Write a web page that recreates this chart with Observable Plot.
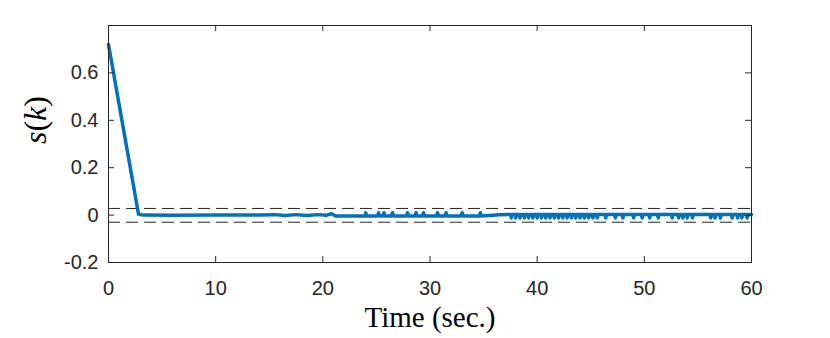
<!DOCTYPE html>
<html>
<head>
<meta charset="utf-8">
<script src="https://cdn.jsdelivr.net/npm/d3@7"></script>
<script src="https://cdn.jsdelivr.net/npm/@observablehq/plot@0.6"></script>
<style>
  html, body { margin: 0; padding: 0; background: #fff; }
  svg { display: block; }
  svg g[aria-label="x-axis tick label"], svg g[aria-label="y-axis tick label"] { font-size: 20px; }
</style>
</head>
<body>
<div id="chart"></div>
<script>
// ---- data ----
// main trajectory key points (time in s, s(k))
const baseTime  = [0, 2.8, 3.2, 6, 10, 14, 15.5, 16.5, 17.5, 18.5, 19.5, 20.3, 20.8, 21.2, 22, 24, 30, 34, 35.5, 36.5, 37.3, 38];
const baseValue = [0.72, 0.004, 0.0, -0.001, 0.0, 0.0, 0.002, -0.002, 0.002, -0.002, 0.002, -0.001, 0.006, -0.004, -0.004, -0.004, -0.004, -0.004, -0.002, 0.001, 0.003, 0.003];
// upward chatter spikes between 20 s and 36 s
const upSpikeTime = [24.0, 25.2, 25.7, 26.5, 27.9, 28.7, 29.4, 30.7, 31.5, 33.0, 34.7];
const upSpikeBase = -0.004;
const upSpikePeak = 0.010;
// downward chatter spikes after 37.5 s
const downSpikeTime = [37.6, 38.0, 38.4, 38.8, 39.2, 39.6, 40.0, 40.4, 40.8, 41.2, 41.6, 42.0, 42.4, 42.8, 43.2, 43.6, 44.0, 44.4, 44.8, 45.2, 45.6,
                       46.4, 47.3, 48.0, 49.0, 49.8, 50.5, 51.3, 52.6, 53.2, 53.6, 54.0, 54.5, 56.2, 56.6, 57.1, 58.2, 58.7, 59.1, 59.6];
const downSpikeBase = 0.003;
const downSpikeLow = -0.012;
const endTime = 60, endValue = 0.003;
// dashed bounds
const bounds = [0.028, -0.03];
// ticks
const xTicks = [0, 10, 20, 30, 40, 50, 60];
const yTicks = [-0.2, 0, 0.2, 0.4, 0.6];
const yTickLabels = ["-0.2", "0", "0.2", "0.4", "0.6"];

// ---- build series ----
const pts = baseTime.map((t, i) => ({t, s: baseValue[i]}));
for (const t of upSpikeTime) {
  pts.push({t: t - 0.1, s: upSpikeBase}, {t, s: upSpikePeak}, {t: t + 0.1, s: upSpikeBase});
}
for (const t of downSpikeTime) {
  pts.push({t: t - 0.08, s: downSpikeBase}, {t, s: downSpikeLow}, {t: t + 0.08, s: downSpikeBase});
}
pts.push({t: endTime, s: endValue});
pts.sort((a, b) => a.t - b.t);

const W = 830, H = 338;
const mL = 108, mR = 79, mT = 25, mB = 76;
const plotH = H - mT - mB, plotW = W - mL - mR;
const yDom = [-0.2, 0.8], xDom = [0, 60];
const tickPx = 6;
const dy = tickPx * (yDom[1] - yDom[0]) / plotH;
const dx = tickPx * (xDom[1] - xDom[0]) / plotW;
const axisColor = "#262626";
const serif = "'Liberation Serif', 'DejaVu Serif', serif";

const chart = Plot.plot({
  width: W, height: H,
  marginLeft: mL, marginRight: mR, marginTop: mT, marginBottom: mB,
  style: {fontFamily: "'Liberation Sans', Arial, sans-serif", fontSize: "20px", color: axisColor, background: "#fff"},
  x: {domain: xDom},
  y: {domain: yDom},
  marks: [
    Plot.ruleY(bounds, {stroke: axisColor, strokeWidth: 1, strokeDasharray: "12,6"}),
    Plot.line(pts, {x: "t", y: "s", stroke: "#0072BD", strokeWidth: 3.5, strokeLinejoin: "round"}),
    // inward ticks
    Plot.ruleX(xTicks, {y1: yDom[0], y2: yDom[0] + dy, stroke: axisColor}),
    Plot.ruleX(xTicks, {y1: yDom[1], y2: yDom[1] - dy, stroke: axisColor}),
    Plot.ruleY(yTicks, {x1: xDom[0], x2: xDom[0] + dx, stroke: axisColor}),
    Plot.ruleY(yTicks, {x1: xDom[1], x2: xDom[1] - dx, stroke: axisColor}),
    Plot.axisX({ticks: xTicks, tickSize: 0, tickPadding: 18, fontSize: 20, label: null}),
    Plot.axisY({ticks: yTicks, tickSize: 0, tickPadding: 10, fontSize: 20, label: null,
                tickFormat: (d) => yTickLabels[yTicks.indexOf(d)]}),
    Plot.frame({stroke: axisColor, strokeWidth: 1}),
    Plot.text(["Time (sec.)"], {frameAnchor: "bottom", dy: 64, fontSize: 29, fontFamily: serif, fill: "#000"}),
    Plot.text(["s(k)"], {frameAnchor: "left", dx: -73, rotate: -90, fontSize: 32, fontFamily: serif, fill: "#000", className: "ylab"})
  ]
});
document.getElementById("chart").append(chart);
// style the y label like LaTeX math: italic variables, upright parentheses
const yl = chart.querySelector(".ylab text");
if (yl) {
  yl.textContent = "";
  const ns = "http://www.w3.org/2000/svg";
  const parts = [["s", "italic"], ["(", "normal"], ["k", "italic"], [")", "normal"]];
  for (const [p, st] of parts) {
    const ts = document.createElementNS(ns, "tspan");
    ts.setAttribute("font-style", st);
    ts.textContent = p;
    yl.appendChild(ts);
  }
}
</script>
</body>
</html>
